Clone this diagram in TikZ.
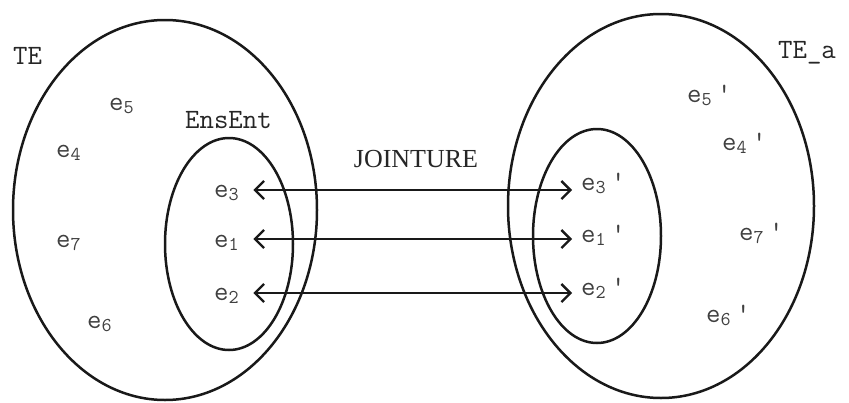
\documentclass[tikz,border=0pt]{standalone}
\usepackage{fontspec}
\setmainfont{Liberation Serif}
\usetikzlibrary{arrows.meta}
\newcommand\esub[1]{e\textsubscript{#1}}
\newcommand\epr[1]{e\textsubscript{#1}\hspace{5pt}\textquotesingle}
\begin{document}
\begin{tikzpicture}[x=1pt,y=-1pt,
  every node/.style={inner sep=0pt},
  lab/.style={font=\ttfamily\fontsize{28}{32}\selectfont, text=black!85, anchor=base west},
  elem/.style={font=\ttfamily\fontsize{28}{32}\selectfont, text=black!75, anchor=base west},
  setline/.style={draw=black!90, line width=2.5pt},
  joinarrow/.style={draw=black!90, line width=2.3pt,
    {Straight Barb[length=9pt,width=18pt,line width=2.3pt]}-{Straight Barb[length=9pt,width=18pt,line width=2.3pt]}}]
\useasboundingbox[fill=white] (0,0) rectangle (849,402);
% sets
\draw[setline] (165,210) ellipse [x radius=152, y radius=190];
\draw[setline] (229,244) ellipse [x radius=64, y radius=106];
\draw[setline] (661,206) ellipse [x radius=153, y radius=192];
\draw[setline] (597,236) ellipse [x radius=64, y radius=107];
% labels
\node[lab] (TE) at (13,64) {TE};
\node[lab] (TEa) at (778,58) {TE\_a};
\node[lab] (EnsEnt) at (185,128) {EnsEnt};
\node[font=\fontsize{26}{30}\selectfont, text=black!85, anchor=base] (join) at (416,167) {JOINTURE};
% left elements
\node[elem] (e5) at (109,110) {\esub{5}};
\node[elem] (e4) at (56,157) {\esub{4}};
\node[elem] (e7) at (56,247) {\esub{7}};
\node[elem] (e6) at (87,328) {\esub{6}};
\node[elem] (e3) at (214,197) {\esub{3}};
\node[elem] (e1) at (214,247) {\esub{1}};
\node[elem] (e2) at (214,300) {\esub{2}};
% right elements
\node[elem] (e5p) at (687,102) {\epr{5}};
\node[elem] (e4p) at (722,150) {\epr{4}};
\node[elem] (e7p) at (739,240) {\epr{7}};
\node[elem] (e6p) at (706,322) {\epr{6}};
\node[elem] (e3p) at (581,190) {\epr{3}};
\node[elem] (e1p) at (581,242) {\epr{1}};
\node[elem] (e2p) at (581,295) {\epr{2}};
% arrows
\draw[joinarrow] ([xshift=14pt,yshift=7pt]e3.base east) -- ([xshift=-9pt,yshift=7pt]e3.base east -| e3p.west);
\draw[joinarrow] ([xshift=14pt,yshift=8pt]e1.base east) -- ([xshift=-9pt,yshift=8pt]e1.base east -| e1p.west);
\draw[joinarrow] ([xshift=14pt,yshift=7pt]e2.base east) -- ([xshift=-9pt,yshift=7pt]e2.base east -| e2p.west);
\end{tikzpicture}
\end{document}
